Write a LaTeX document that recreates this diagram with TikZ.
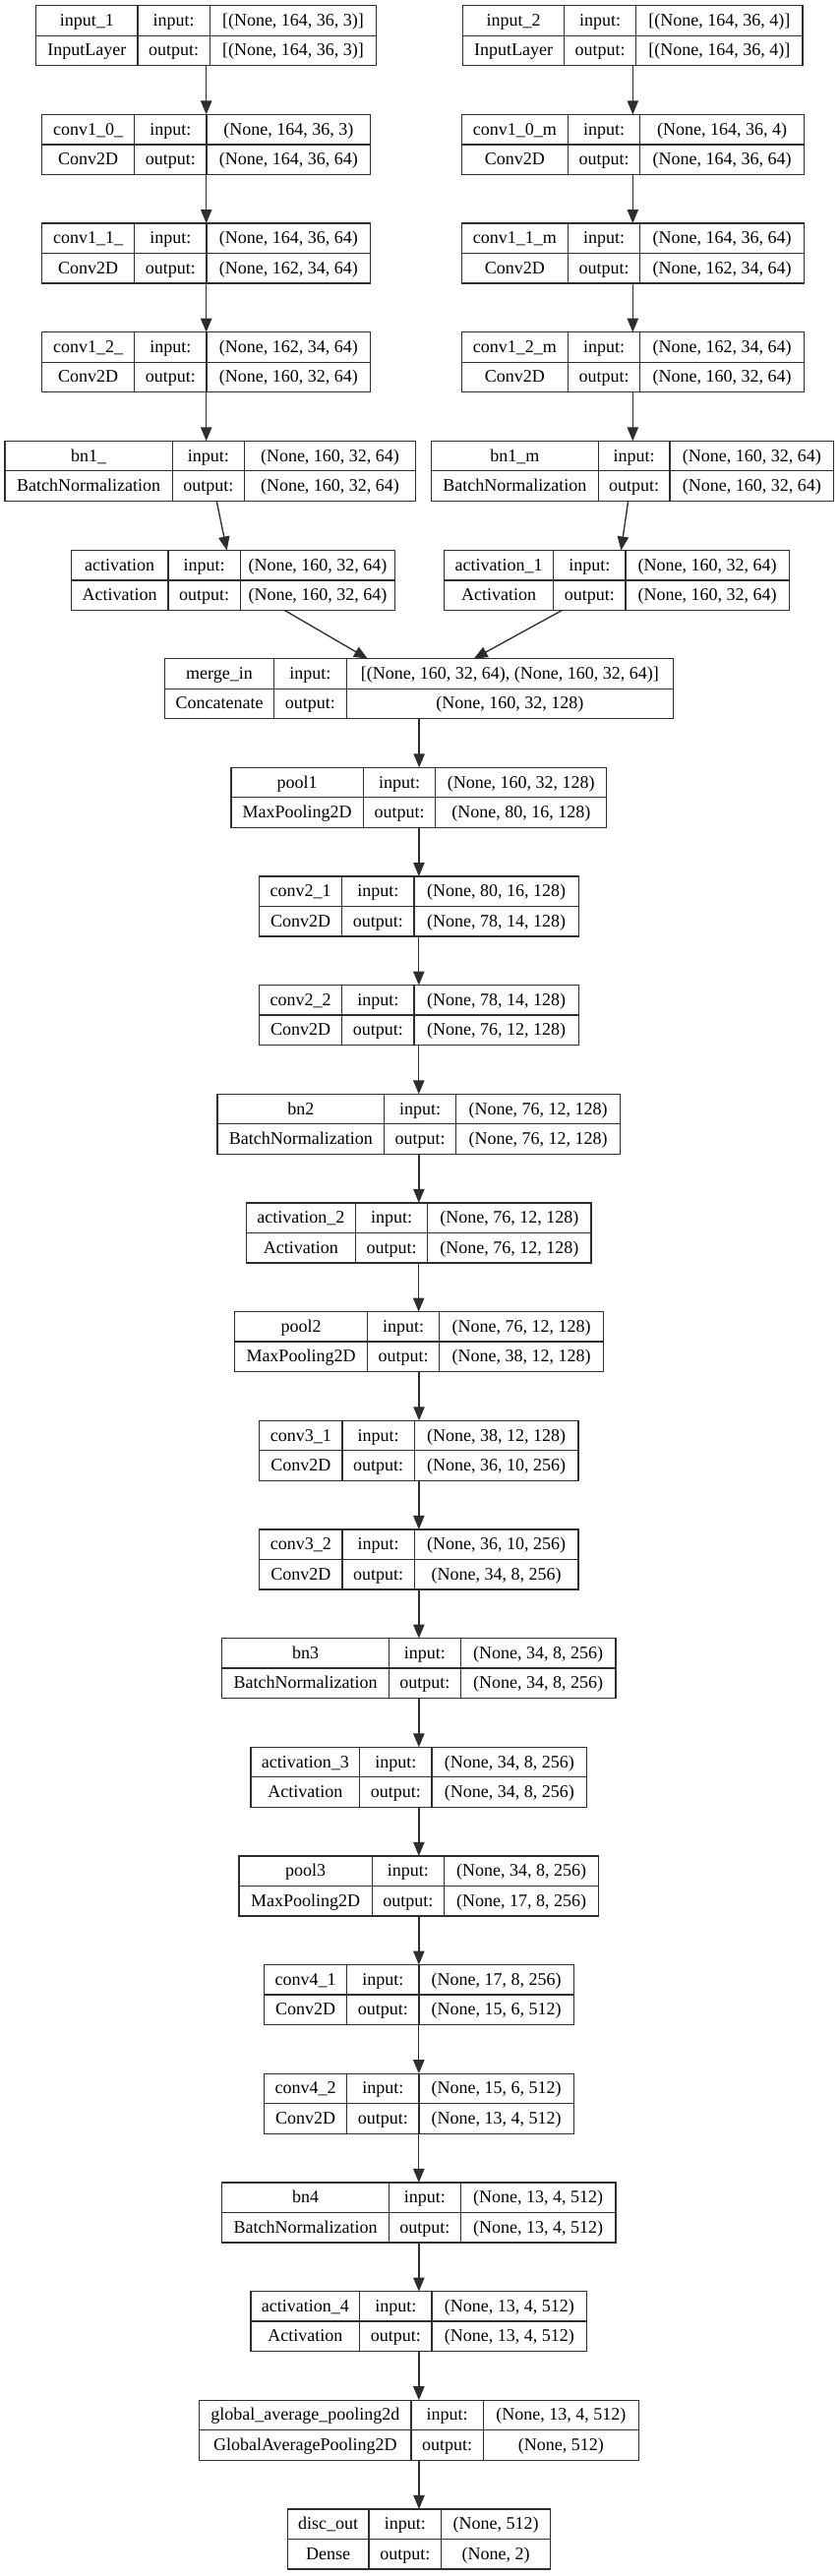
\documentclass[tikz,border=0pt]{standalone}
\usepackage{fontspec}
\setmainfont{Liberation Serif}
\usetikzlibrary{arrows.meta}
\definecolor{kline}{HTML}{2E2E2E}
\tikzset{
  layerbox/.style={draw=kline, line width=1pt, inner sep=0pt, outer sep=0pt, minimum height=45.75pt},
  divline/.style={draw=kline, line width=1pt},
  lbl/.style={anchor=base, inner sep=0pt, text=black, font=\fontsize{13.5}{16}\selectfont},
  arr/.style={draw=kline, line width=1pt, -{Triangle[length=10.5pt,width=8.5pt]}}
}
\newcommand\klayer[6]{%
  \def\kxa{#3}\def\kxb{#4}\def\kxc{#5}\def\kxd{#6}\def\ktop{#2}%
  \pgfmathsetmacro\kcx{(#3+#6)/2}%
  \pgfmathsetmacro\kcy{#2+30.5}%
  \pgfmathsetmacro\kw{(#6-#3)*0.75}%
  \node[layerbox, minimum width=\kw pt] (#1) at (\kcx,\kcy) {};
  \draw[divline] (#4,#2) -- (#4,{#2+61}) (#5,#2) -- (#5,{#2+61}) (#3,\kcy) -- (#6,\kcy);
  \klayertext}
\newcommand\klayertext[4]{%
  \pgfmathsetmacro\kya{\ktop+15.25+5.5}%
  \pgfmathsetmacro\kyb{\ktop+45.75+5.5}%
  \node[lbl] at ({(\kxa+\kxb)/2},\kya) {#1};
  \node[lbl] at ({(\kxb+\kxc)/2},\kya) {input:};
  \node[lbl] at ({(\kxc+\kxd)/2},\kya) {#3};
  \node[lbl] at ({(\kxa+\kxb)/2},\kyb) {#2};
  \node[lbl] at ({(\kxb+\kxc)/2},\kyb) {output:};
  \node[lbl] at ({(\kxc+\kxd)/2},\kyb) {#4};
}
\begin{document}
\begin{tikzpicture}[x=0.75pt, y=-0.75pt]
\useasboundingbox[fill=white] (0,0) rectangle (853,2619);
% left branch
\klayer{inA}{5.7}{36.7}{140}{213.3}{382.7}{input\_1}{InputLayer}{[(None, 164, 36, 3)]}{[(None, 164, 36, 3)]}
\klayer{c10}{116.4}{42.7}{136.7}{210}{376.7}{conv1\_0\_}{Conv2D}{(None, 164, 36, 3)}{(None, 164, 36, 64)}
\klayer{c11}{227.0}{42.7}{136.7}{210}{376.7}{conv1\_1\_}{Conv2D}{(None, 164, 36, 64)}{(None, 162, 34, 64)}
\klayer{c12}{337.7}{42.7}{136.7}{210}{376.7}{conv1\_2\_}{Conv2D}{(None, 162, 34, 64)}{(None, 160, 32, 64)}
\klayer{bnA}{448.3}{5}{175.3}{248.3}{422.7}{bn1\_}{BatchNormalization}{(None, 160, 32, 64)}{(None, 160, 32, 64)}
\klayer{acA}{559.5}{72.3}{171}{244.3}{401.7}{activation}{Activation}{(None, 160, 32, 64)}{(None, 160, 32, 64)}
% right branch
\klayer{inB}{5.7}{470.7}{573.3}{646.7}{816}{input\_2}{InputLayer}{[(None, 164, 36, 4)]}{[(None, 164, 36, 4)]}
\klayer{m10}{116.4}{469.3}{577.3}{650.7}{817.3}{conv1\_0\_m}{Conv2D}{(None, 164, 36, 4)}{(None, 164, 36, 64)}
\klayer{m11}{227.0}{469.3}{577.3}{650.7}{817.3}{conv1\_1\_m}{Conv2D}{(None, 164, 36, 64)}{(None, 162, 34, 64)}
\klayer{m12}{337.7}{469.3}{577.3}{650.7}{817.3}{conv1\_2\_m}{Conv2D}{(None, 162, 34, 64)}{(None, 160, 32, 64)}
\klayer{bnB}{448.3}{438.3}{608.3}{681}{847.7}{bn1\_m}{BatchNormalization}{(None, 160, 32, 64)}{(None, 160, 32, 64)}
\klayer{acB}{559.5}{451.7}{562.7}{636}{802.3}{activation\_1}{Activation}{(None, 160, 32, 64)}{(None, 160, 32, 64)}
% trunk
\klayer{mrg}{669.7}{167.7}{278.3}{352.3}{684.6}{merge\_in}{Concatenate}{[(None, 160, 32, 64), (None, 160, 32, 64)]}{(None, 160, 32, 128)}
\klayer{p1}{780.3}{235}{369.3}{442.7}{616.8}{pool1}{MaxPooling2D}{(None, 160, 32, 128)}{(None, 80, 16, 128)}
\klayer{c21}{891.0}{263.3}{347.7}{421}{588.3}{conv2\_1}{Conv2D}{(None, 80, 16, 128)}{(None, 78, 14, 128)}
\klayer{c22}{1001.6}{263.3}{347.7}{421}{588.3}{conv2\_2}{Conv2D}{(None, 78, 14, 128)}{(None, 76, 12, 128)}
\klayer{bn2}{1112.3}{221}{390.7}{463.7}{630.7}{bn2}{BatchNormalization}{(None, 76, 12, 128)}{(None, 76, 12, 128)}
\klayer{ac2}{1222.9}{250.3}{361.3}{434.7}{601}{activation\_2}{Activation}{(None, 76, 12, 128)}{(None, 76, 12, 128)}
\klayer{p2}{1333.6}{238.7}{373.3}{446.7}{613.3}{pool2}{MaxPooling2D}{(None, 76, 12, 128)}{(None, 38, 12, 128)}
\klayer{c31}{1444.3}{263.7}{348}{421.3}{588}{conv3\_1}{Conv2D}{(None, 38, 12, 128)}{(None, 36, 10, 256)}
\klayer{c32}{1554.9}{263.7}{348}{421.3}{588}{conv3\_2}{Conv2D}{(None, 36, 10, 256)}{(None, 34, 8, 256)}
\klayer{bn3}{1665.6}{225.7}{395.3}{468.3}{626}{bn3}{BatchNormalization}{(None, 34, 8, 256)}{(None, 34, 8, 256)}
\klayer{ac3}{1776.3}{255}{365.7}{439}{596.7}{activation\_3}{Activation}{(None, 34, 8, 256)}{(None, 34, 8, 256)}
\klayer{p3}{1886.9}{243}{378.3}{451.3}{608.7}{pool3}{MaxPooling2D}{(None, 34, 8, 256)}{(None, 17, 8, 256)}
\klayer{c41}{1997.6}{268.3}{352.7}{426}{583.3}{conv4\_1}{Conv2D}{(None, 17, 8, 256)}{(None, 15, 6, 512)}
\klayer{c42}{2108.2}{268.3}{352.7}{426}{583.3}{conv4\_2}{Conv2D}{(None, 15, 6, 512)}{(None, 13, 4, 512)}
\klayer{bn4}{2218.9}{225.7}{395.3}{468.3}{626}{bn4}{BatchNormalization}{(None, 13, 4, 512)}{(None, 13, 4, 512)}
\klayer{ac4}{2329.6}{255}{365.7}{439}{596.7}{activation\_4}{Activation}{(None, 13, 4, 512)}{(None, 13, 4, 512)}
\klayer{gap}{2440.2}{202.7}{418}{491.3}{649.3}{global\_average\_pooling2d}{GlobalAveragePooling2D}{(None, 13, 4, 512)}{(None, 512)}
\klayer{out}{2550.9}{292.3}{375}{448.7}{559.3}{disc\_out}{Dense}{(None, 512)}{(None, 2)}
% connectors
\draw[arr] (inA.south) -- (inA.south |- c10.north);
\draw[arr] (c10.south) -- (c10.south |- c11.north);
\draw[arr] (c11.south) -- (c11.south |- c12.north);
\draw[arr] (c12.south) -- (c12.south |- bnA.north);
\draw[arr] (bnA) -- (acA);
\draw[arr] (acA) -- (mrg);
\draw[arr] (inB.south) -- (inB.south |- m10.north);
\draw[arr] (m10.south) -- (m10.south |- m11.north);
\draw[arr] (m11.south) -- (m11.south |- m12.north);
\draw[arr] (m12.south) -- (m12.south |- bnB.north);
\draw[arr] (bnB) -- (acB);
\draw[arr] (acB) -- (mrg);
\foreach \a/\b in {mrg/p1,p1/c21,c21/c22,c22/bn2,bn2/ac2,ac2/p2,p2/c31,c31/c32,c32/bn3,bn3/ac3,ac3/p3,p3/c41,c41/c42,c42/bn4,bn4/ac4,ac4/gap,gap/out}
  \draw[arr] (\a.south) -- (\a.south |- \b.north);
\end{tikzpicture}
\end{document}
